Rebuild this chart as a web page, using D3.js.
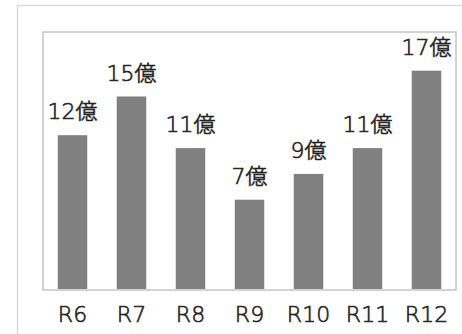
<!DOCTYPE html>
<html>
<head>
<meta charset="utf-8">
<script src="https://cdn.jsdelivr.net/npm/d3@7/dist/d3.min.js"></script>
<style>
  html, body { margin: 0; padding: 0; background: #fff; }
  svg { display: block; }
  text { font-family: "DejaVu Sans", "Noto Sans CJK JP", sans-serif; fill: #222; }
</style>
</head>
<body>
<svg id="chart" width="462" height="334"></svg>
<script>
const categories = ["R6", "R7", "R8", "R9", "R10", "R11", "R12"];
const values = [12, 15, 11, 7, 9, 11, 17];
const valueLabels = ["12億", "15億", "11億", "7億", "9億", "11億", "17億"];
const yDomain = [0, 20];

const svg = d3.select("#chart");
const W = 462, H = 334;
const plot = { left: 43, top: 32, right: 456, bottom: 290 };
const FONT = '"DejaVu Sans", "Noto Sans CJK JP", sans-serif';

// outer frame
svg.append("rect")
  .attr("x", 17.5).attr("y", 5.5)
  .attr("width", W + 10).attr("height", H + 10)
  .attr("fill", "none").attr("stroke", "#d9d9d9").attr("stroke-width", 1.5);

const x = d3.scaleBand().domain(categories)
  .range([plot.left, plot.right]).paddingInner(0.5).paddingOuter(0.25);
const y = d3.scaleLinear().domain(yDomain).range([plot.bottom, plot.top]);

// inner plot border
svg.append("rect")
  .attr("x", plot.left).attr("y", plot.top)
  .attr("width", plot.right - plot.left).attr("height", plot.bottom - plot.top)
  .attr("fill", "none").attr("stroke", "#c4c4c4").attr("stroke-width", 1.5);

svg.append("g").selectAll("rect").data(values).join("rect")
  .attr("x", (d, i) => x(categories[i]))
  .attr("y", d => y(d))
  .attr("width", x.bandwidth())
  .attr("height", d => y(0) - y(d) - 1)
  .attr("fill", "#808080");

svg.append("g").selectAll("text").data(values).join("text")
  .attr("x", (d, i) => x(categories[i]) + x.bandwidth() / 2)
  .attr("y", d => y(d) - 16)
  .attr("text-anchor", "middle")
  .attr("font-size", 22)
  .attr("font-weight", 300)
  .attr("stroke", "#222")
  .attr("stroke-width", 0.6)
  .text((d, i) => valueLabels[i]);

const xAxis = d3.axisBottom(x).tickSize(0).tickPadding(0);
const gx = svg.append("g").attr("transform", `translate(0,${plot.bottom})`).call(xAxis);
gx.select(".domain").remove();
gx.selectAll("text")
  .attr("y", 31.5)
  .attr("dy", null)
  .attr("font-size", 22)
  .attr("font-weight", 300)
  .attr("stroke", "#222")
  .attr("stroke-width", 0.6)
  .style("font-family", FONT)
  .attr("fill", "#222");
</script>
</body>
</html>
